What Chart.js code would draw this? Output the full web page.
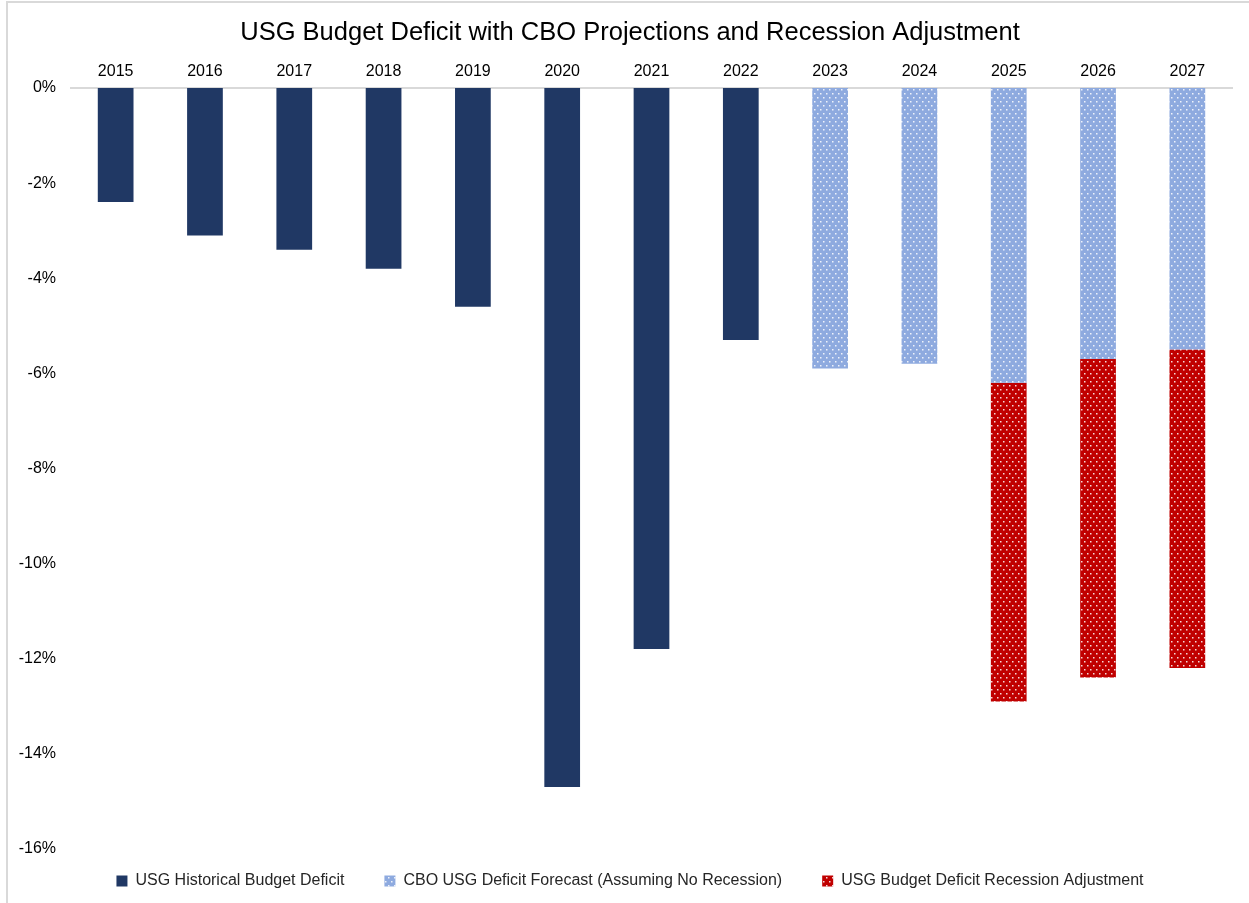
<!DOCTYPE html>
<html>
<head>
<meta charset="utf-8">
<script src="https://cdn.jsdelivr.net/npm/chart.js@4.4.0/dist/chart.umd.min.js"></script>
<style>
  html, body { margin: 0; padding: 0; background: #fff; }
  #wrap { width: 1249px; height: 903px; }
</style>
</head>
<body>
<div id="wrap"><canvas id="deficitChart" width="1249" height="903"></canvas></div>
<script>
const years = ['2015', '2016', '2017', '2018', '2019', '2020', '2021', '2022', '2023', '2024', '2025', '2026', '2027'];
const historical = [-2.4, -3.1, -3.4, -3.8, -4.6, -14.7, -11.8, -5.3, null, null, null, null, null];
const cboForecast = [null, null, null, null, null, null, null, null, -5.9, -5.8, -6.2, -5.7, -5.5];
const recessionAdj = [null, null, null, null, null, null, null, null, null, null, -6.7, -6.7, -6.7];
const yTicks = [0, -2, -4, -6, -8, -10, -12, -14, -16];

function dotPattern(bg) {
    const c = document.createElement('canvas');
    c.width = 6; c.height = 8;
    const x = c.getContext('2d');
    x.fillStyle = bg;
    x.fillRect(0, 0, 6, 8);
    x.fillStyle = 'rgba(255,255,255,0.85)';
    x.fillRect(1, 1, 1.5, 1.5);
    x.fillRect(4, 5, 1.5, 1.5);
    return x.createPattern(c, 'repeat');
}

const frame = {
    id: 'frame',
    afterDraw(chart) {
        const ctx = chart.ctx;
        ctx.save();
        ctx.strokeStyle = '#d9d9d9';
        ctx.lineWidth = 2;
        ctx.strokeRect(7, 2, 1400, 1000);
        ctx.restore();
    }
};

// legend label padding is wide between items; give the plot back the extra height
const legendShift = 31;
const legendGap = {
    id: 'legendGap',
    beforeInit(chart) {
        const legend = chart.legend;
        const fit = legend.fit;
        legend.fit = function () {
            fit.bind(legend)();
            this.height -= legendShift;
        };
        const draw = legend.draw;
        legend.draw = function () {
            legend.top -= legendShift;
            draw.bind(legend)();
            legend.top += legendShift;
        };
    }
};

const ctx = document.getElementById('deficitChart').getContext('2d');
new Chart(ctx, {
    type: 'bar',
    data: {
        labels: years,
        datasets: [
            {
                label: 'USG Historical Budget Deficit',
                data: historical,
                backgroundColor: '#203864'
            },
            {
                label: 'CBO USG Deficit Forecast (Assuming No Recession)',
                data: cboForecast,
                backgroundColor: dotPattern('#8eaadf')
            },
            {
                label: 'USG Budget Deficit Recession Adjustment',
                data: recessionAdj,
                backgroundColor: dotPattern('#c00000')
            }
        ]
    },
    options: {
        responsive: false,
        animation: false,
        datasets: { bar: { barPercentage: 0.4, categoryPercentage: 1 } },
        layout: { padding: { left: 11, right: 0, top: 18, bottom: 4 } },
        plugins: {
            title: {
                display: true,
                text: 'USG Budget Deficit with CBO Projections and Recession Adjustment',
                color: '#000',
                font: { family: 'Liberation Sans', size: 25.5, weight: 'normal' },
                padding: { top: 0, bottom: 0 }
            },
            legend: {
                position: 'bottom',
                labels: {
                    color: '#262626',
                    font: { family: 'Liberation Sans', size: 16 },
                    boxWidth: 11,
                    boxHeight: 11,
                    padding: 40
                }
            },
            tooltip: { enabled: false }
        },
        scales: {
            x: {
                position: 'top',
                stacked: true,
                grid: { display: false, drawTicks: false },
                border: { display: true, color: '#d9d9d9', width: 2 },
                ticks: {
                    color: '#000',
                    font: { family: 'Liberation Sans', size: 16 },
                    padding: 7,
                    maxRotation: 0
                },
                afterFit(scale) { scale.height = 39.4; }
            },
            y: {
                stacked: true,
                min: -16.32,
                max: 0,
                grid: { display: false, drawTicks: false },
                border: { display: false },
                ticks: {
                    color: '#000',
                    font: { family: 'Liberation Sans', size: 16 },
                    padding: 15,
                    callback: v => v + '%'
                },
                afterBuildTicks(scale) {
                    scale.ticks = yTicks.map(v => ({ value: v }));
                },
                afterFit(scale) { scale.width = 60; }
            },
            // empty right-hand axis: only reserves the margin on the right
            yRight: {
                position: 'right',
                display: true,
                grid: { display: false, drawTicks: false },
                border: { display: false },
                ticks: { display: false },
                afterFit(scale) { scale.width = 17; }
            }
        }
    },
    plugins: [frame, legendGap]
});
</script>
</body>
</html>
